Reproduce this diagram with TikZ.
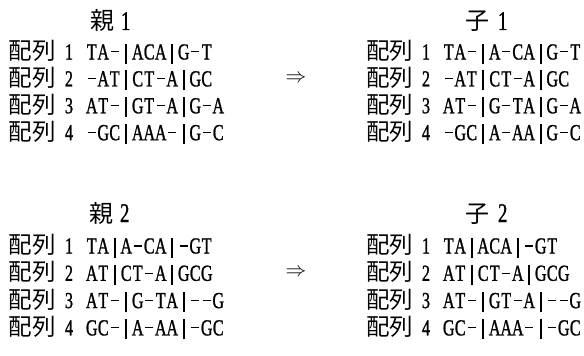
\documentclass[tikz,border=0pt]{standalone}
\usepackage{fontspec}
\newfontfamily\cjk{Noto Sans CJK JP}
\newfontfamily\latn[FakeStretch=0.7,FakeBold=1]{Liberation Serif}
\makeatletter
\newcommand\seqcell[1]{\makebox[11.5pt][c]{#1}}
\newcommand\seqtxt[1]{\@tfor\sq@c:=#1\do{\seqchar}}
\newcommand\seqchar{\if\sq@c-\seqcell{\rule[7pt]{8pt}{1.2pt}}\else\if\sq@c|\seqcell{\rule[-4pt]{1.6pt}{20pt}}\else\seqcell{\sq@c}\fi\fi}
\makeatother
\tikzset{
  lbl/.style={inner sep=0pt, outer sep=0pt, anchor=base west, font=\cjk\fontsize{23.5}{23.5}\selectfont},
  num/.style={inner sep=0pt, outer sep=0pt, anchor=base, font=\latn\fontsize{23}{23}\selectfont},
  sq/.style={inner sep=0pt, outer sep=0pt, anchor=base west, font=\latn\fontsize{23}{23}\selectfont},
  ttl/.style={inner sep=0pt, outer sep=0pt, anchor=base west, font=\cjk\fontsize{24}{24}\selectfont},
  tnum/.style={inner sep=0pt, outer sep=0pt, anchor=base west, font=\latn\fontsize{27}{27}\selectfont},
  arr/.style={inner sep=0pt, outer sep=0pt, font=\fontsize{22}{22}\selectfont}
}
\begin{document}
\begin{tikzpicture}[x=1pt,y=-1pt]
\useasboundingbox (0,0) rectangle (584,356);
% titles
\node[ttl] (t1c) at (90,30) {親};
\node[tnum] (t1n) at (121,30) {1};
\node[ttl] (t2c) at (465,30) {子};
\node[tnum] (t2n) at (498,30) {1};
\node[ttl] (t3c) at (89,222) {親};
\node[tnum] (t3n) at (120,222) {2};
\node[ttl] (t4c) at (465,222) {子};
\node[tnum] (t4n) at (498,222) {2};
% arrows
\node[arr] (a1) at (296,79) {$\Rightarrow$};
\node[arr] (a2) at (296,273) {$\Rightarrow$};
% parent 1
\node[lbl] (p1l1) at (9,59.5) {配列};  \node[num] (p1n1) at (69,59.5) {1}; \node[sq] (p1s1) at (86,59.5) {\seqtxt{TA-|ACA|G-T}};
\node[lbl] (p1l2) at (9,86.4) {配列};  \node[num] (p1n2) at (69,86.4) {2}; \node[sq] (p1s2) at (86,86.4) {\seqtxt{-AT|CT-A|GC}};
\node[lbl] (p1l3) at (9,113.3) {配列}; \node[num] (p1n3) at (69,113.3) {3}; \node[sq] (p1s3) at (86,113.3) {\seqtxt{AT-|GT-A|G-A}};
\node[lbl] (p1l4) at (9,140.2) {配列}; \node[num] (p1n4) at (69,140.2) {4}; \node[sq] (p1s4) at (86,140.2) {\seqtxt{-GC|AAA-|G-C}};
% child 1
\node[lbl] (c1l1) at (366,59.5) {配列};  \node[num] (c1n1) at (426,59.5) {1}; \node[sq] (c1s1) at (443,59.5) {\seqtxt{TA-|A-CA|G-T}};
\node[lbl] (c1l2) at (366,86.4) {配列};  \node[num] (c1n2) at (426,86.4) {2}; \node[sq] (c1s2) at (443,86.4) {\seqtxt{-AT|CT-A|GC}};
\node[lbl] (c1l3) at (366,113.3) {配列}; \node[num] (c1n3) at (426,113.3) {3}; \node[sq] (c1s3) at (443,113.3) {\seqtxt{AT-|G-TA|G-A}};
\node[lbl] (c1l4) at (366,140.2) {配列}; \node[num] (c1n4) at (426,140.2) {4}; \node[sq] (c1s4) at (443,140.2) {\seqtxt{-GC|A-AA|G-C}};
% parent 2
\node[lbl] (p2l1) at (9,253.5) {配列}; \node[num] (p2n1) at (69,253.5) {1}; \node[sq] (p2s1) at (86,253.5) {\seqtxt{TA|A-CA|-GT}};
\node[lbl] (p2l2) at (9,280.8) {配列}; \node[num] (p2n2) at (69,280.8) {2}; \node[sq] (p2s2) at (86,280.8) {\seqtxt{AT|CT-A|GCG}};
\node[lbl] (p2l3) at (9,308.1) {配列}; \node[num] (p2n3) at (69,308.1) {3}; \node[sq] (p2s3) at (86,308.1) {\seqtxt{AT-|G-TA|--G}};
\node[lbl] (p2l4) at (9,335.4) {配列}; \node[num] (p2n4) at (69,335.4) {4}; \node[sq] (p2s4) at (86,335.4) {\seqtxt{GC-|A-AA|-GC}};
% child 2
\node[lbl] (c2l1) at (366,253.5) {配列}; \node[num] (c2n1) at (426,253.5) {1}; \node[sq] (c2s1) at (443,253.5) {\seqtxt{TA|ACA|-GT}};
\node[lbl] (c2l2) at (366,280.8) {配列}; \node[num] (c2n2) at (426,280.8) {2}; \node[sq] (c2s2) at (443,280.8) {\seqtxt{AT|CT-A|GCG}};
\node[lbl] (c2l3) at (366,308.1) {配列}; \node[num] (c2n3) at (426,308.1) {3}; \node[sq] (c2s3) at (443,308.1) {\seqtxt{AT-|GT-A|--G}};
\node[lbl] (c2l4) at (366,335.4) {配列}; \node[num] (c2n4) at (426,335.4) {4}; \node[sq] (c2s4) at (443,335.4) {\seqtxt{GC-|AAA-|-GC}};
\end{tikzpicture}
\end{document}
